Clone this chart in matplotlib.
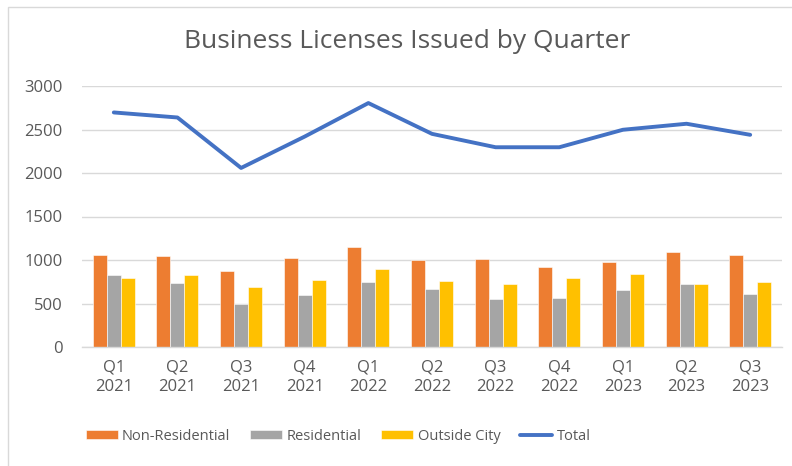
import matplotlib
matplotlib.use('Agg')
import matplotlib.pyplot as plt
from matplotlib.patches import Rectangle
import numpy as np

# data
quarters = ["Q1\n2021", "Q2\n2021", "Q3\n2021", "Q4\n2021", "Q1\n2022", "Q2\n2022",
            "Q3\n2022", "Q4\n2022", "Q1\n2023", "Q2\n2023", "Q3\n2023"]
non_residential = [1061, 1046, 870, 1026, 1144, 1000, 1011, 923, 980, 1091, 1061]
residential = [824, 740, 492, 595, 752, 668, 549, 565, 652, 725, 614]
outside_city = [794, 832, 694, 775, 893, 763, 725, 797, 843, 725, 744]
total = [2696, 2638, 2058, 2419, 2804, 2450, 2296, 2296, 2497, 2566, 2439]
yticks = [0, 500, 1000, 1500, 2000, 2500, 3000]

txt = "#595959"
plt.rcParams['font.family'] = ['Open Sans', 'DejaVu Sans']

W, H = 792, 466
fig = plt.figure(figsize=(W / 100, H / 100), dpi=100)
ax = fig.add_axes([82 / W, 1 - 347 / H, 700 / W, 261 / H])

x = np.arange(len(quarters))
bw = 0.22
b1 = ax.bar(x - bw, non_residential, bw, color="#ED7D31", edgecolor="white", linewidth=0.4, label="Non-Residential", zorder=2)
b2 = ax.bar(x, residential, bw, color="#A5A5A5", edgecolor="white", linewidth=0.4, label="Residential", zorder=2)
b3 = ax.bar(x + bw, outside_city, bw, color="#FFC000", edgecolor="white", linewidth=0.4, label="Outside City", zorder=2)
ln, = ax.plot(x, total, color="#4472C4", linewidth=2.8, solid_capstyle="round", label="Total", zorder=3)

ax.set_xlim(-0.5, len(quarters) - 0.5)
ax.set_ylim(0, 3000)
ax.set_yticks(yticks)
ax.set_xticks(x)
ax.set_xticklabels(quarters, linespacing=1.3)
ax.tick_params(axis="both", length=0, colors=txt, labelsize=12)
ax.tick_params(axis="y", pad=14)
ax.tick_params(axis="x", pad=9)
ax.grid(axis="y", color="#D9D9D9", linewidth=1.0, zorder=0)
for s in ["top", "right", "left"]:
    ax.spines[s].set_visible(False)
ax.spines["bottom"].set_color("#D9D9D9")
ax.spines["bottom"].set_linewidth(1.0)

fig.text(407 / W, 1 - 42 / H, "Business Licenses Issued by Quarter", ha="center", va="center",
         fontsize=19, color=txt)

leg = fig.legend([b1, b2, b3, ln], ["Non-Residential", "Residential", "Outside City", "Total"],
                 loc="center", bbox_to_anchor=(338 / W, 1 - 436 / H), ncol=4, frameon=False,
                 fontsize=10.5, handlelength=2.2, handleheight=0.65, columnspacing=1.35,
                 handletextpad=0.3, labelcolor=txt)

fig.patches.append(Rectangle((8 / W, -0.1), 1.0, 1 - 7 / H + 0.1, transform=fig.transFigure,
                             fill=False, edgecolor="#D9D9D9", linewidth=1.0))

plt.savefig("out.png", dpi=100)
